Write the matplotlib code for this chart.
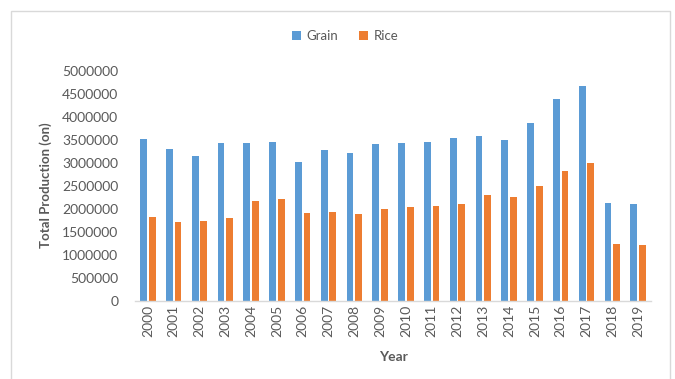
import matplotlib
matplotlib.use("Agg")
import matplotlib.pyplot as plt
from matplotlib.patches import Rectangle
import numpy as np

plt.rcParams['font.family'] = ['Lato', 'DejaVu Sans']

years = ['2000', '2001', '2002', '2003', '2004', '2005', '2006', '2007', '2008', '2009',
         '2010', '2011', '2012', '2013', '2014', '2015', '2016', '2017', '2018', '2019']
grain = [3520000, 3300000, 3140000, 3430000, 3430000, 3440000, 3010000, 3270000, 3200000, 3400000,
         3430000, 3450000, 3540000, 3570000, 3500000, 3860000, 4390000, 4660000, 2120000, 2090000]
rice = [1810000, 1710000, 1740000, 1790000, 2170000, 2200000, 1910000, 1930000, 1890000, 1980000,
        2030000, 2050000, 2090000, 2290000, 2260000, 2490000, 2820000, 3000000, 1220000, 1200000]
y_ticks = [0, 500000, 1000000, 1500000, 2000000, 2500000, 3000000, 3500000, 4000000, 4500000, 5000000]

W, H = 675, 379
fig = plt.figure(figsize=(W / 100, H / 100), dpi=100)
fig.patch.set_facecolor('white')

# outer chart border
fig.patches.append(Rectangle((11 / W, -0.02), (670 - 11) / W, 1 - 11 / H + 0.02,
                             transform=fig.transFigure, fill=False,
                             edgecolor='#D9D9D9', linewidth=1.0))

ax = fig.add_axes([135 / W, 1 - 300.5 / H, (651 - 135) / W, (300.5 - 70.7) / H])
x = np.arange(len(years))
bw = 0.26
ax.bar(x - 0.165, grain, width=bw, color='#5B9BD5', label='Grain', zorder=2)
ax.bar(x + 0.165, rice, width=bw, color='#ED7D31', label='Rice', zorder=2)

ax.set_xlim(-0.5, len(years) - 0.5)
ax.set_ylim(0, 5000000)
ax.set_yticks(y_ticks)
ax.set_yticklabels([str(v) for v in y_ticks])
ax.set_xticks(x)
ax.set_xticklabels(years, rotation=90)

for s in ['top', 'right', 'left']:
    ax.spines[s].set_visible(False)
ax.spines['bottom'].set_color('#D9D9D9')
ax.spines['bottom'].set_linewidth(1.0)
ax.tick_params(axis='both', length=0, colors='#595959', labelsize=10)
ax.tick_params(axis='y', pad=12)
ax.tick_params(axis='x', pad=3)

ax.set_ylabel('Total Production (on)', fontsize=9.5, fontweight='bold', color='#595959', labelpad=7)
ax.set_xlabel('Year', fontsize=10, fontweight='bold', color='#595959', labelpad=10)

leg = fig.legend(loc='center', bbox_to_anchor=(345 / W, 1 - 36 / H), ncol=2, frameon=False,
                 fontsize=9.5, handlelength=0.7, handleheight=0.7, handletextpad=0.4,
                 columnspacing=1.6, labelcolor='#595959')

fig.savefig('out.png', dpi=100, facecolor='white')
